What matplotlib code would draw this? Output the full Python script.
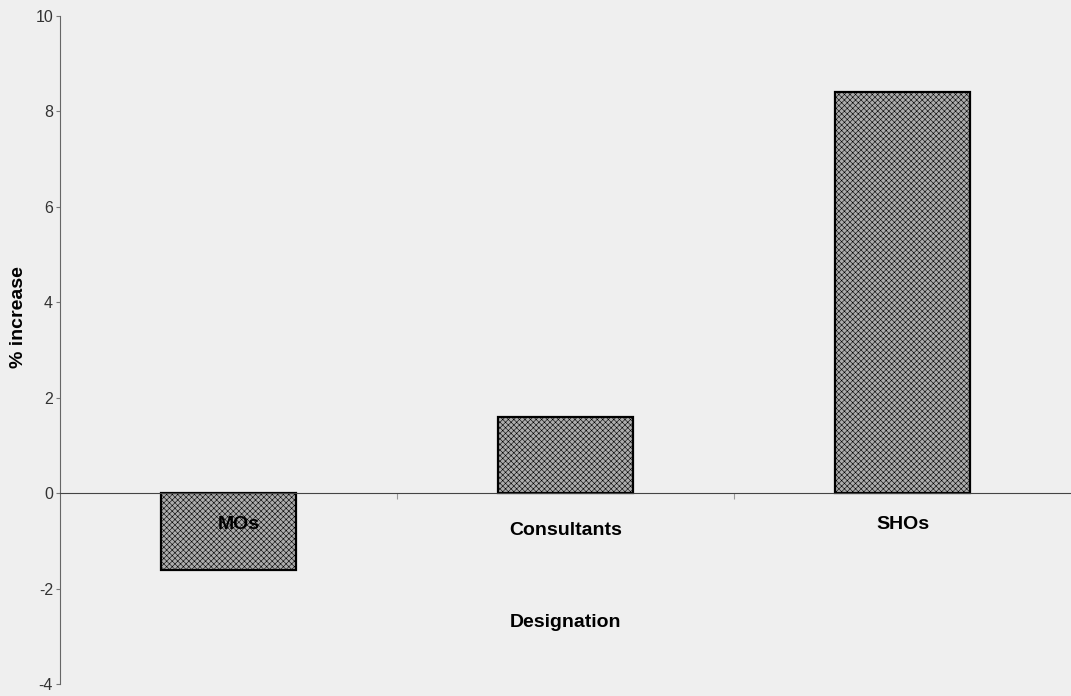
import matplotlib.pyplot as plt

categories = ['MOs', 'Consultants', 'SHOs']
pct_increase = [-1.6, 1.6, 8.4]
yticks = [-4, -2, 0, 2, 4, 6, 8, 10]

plt.rcParams['font.family'] = ['Liberation Sans', 'DejaVu Sans']
plt.rcParams['axes.unicode_minus'] = False
plt.rcParams['hatch.color'] = '#7c7c7c'
plt.rcParams['hatch.linewidth'] = 0.4

fig = plt.figure(figsize=(10.71, 6.96), dpi=100, facecolor='#efefef')
ax = fig.add_axes([0.056, 0.017, 0.944, 0.96])
ax.set_facecolor('#efefef')

xs = [i + 0.5 for i in range(len(categories))]
ax.bar(xs, pct_increase, width=0.4, color='#acacac', edgecolor='black',
       linewidth=1.6, hatch='xxxxxx', zorder=2)

ax.set_xlim(0, 3)
ax.set_ylim(-4, 10)
ax.set_yticks(yticks)
ax.tick_params(axis='y', length=3, colors='#777777', labelsize=11.5, pad=2,
               labelcolor='#333333')

ax.spines['top'].set_visible(False)
ax.spines['right'].set_visible(False)
ax.spines['left'].set_color('#666666')
ax.spines['bottom'].set_position(('data', 0))
ax.spines['bottom'].set_color('#444444')
ax.spines['bottom'].set_zorder(3)
ax.set_xticks([1, 2])
ax.set_xticklabels([])
ax.tick_params(axis='x', length=4, direction='out', colors='#999999')

offsets = {'MOs': (0.03, -0.65), 'Consultants': (0.0, -0.78), 'SHOs': (0.0, -0.65)}
for x, name in zip(xs, categories):
    dx, y = offsets[name]
    ax.text(x + dx, y, name, ha='center', va='center', fontsize=14,
            fontweight='bold', zorder=4)

ax.text(1.5, -2.7, 'Designation', ha='center', va='center', fontsize=14,
        fontweight='bold')
fig.text(0.017, 0.545, '% increase', rotation=90, ha='center', va='center',
         fontsize=14, fontweight='bold')

fig.savefig('out.png', dpi=100, facecolor=fig.get_facecolor())
